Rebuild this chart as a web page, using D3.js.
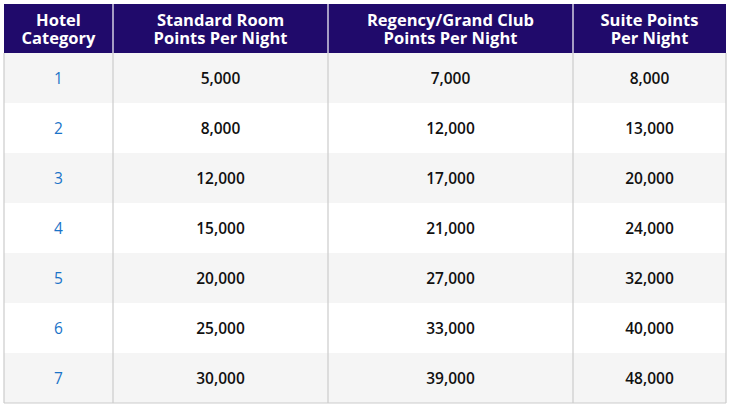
<!DOCTYPE html><html><head><meta charset="utf-8"><script src="https://cdn.jsdelivr.net/npm/d3@7"></script>
<style>body{margin:0;background:#fff}</style></head><body><svg id="c" width="735" height="409"></svg>
<script>
const headers=[["Hotel","Category"],["Standard Room","Points Per Night"],["Regency/Grand Club","Points Per Night"],["Suite Points","Per Night"]];
const categories=["1","2","3","4","5","6","7"];
const standard=[5000,8000,12000,15000,20000,25000,30000];
const club=[7000,12000,17000,21000,27000,33000,39000];
const suite=[8000,13000,20000,24000,32000,40000,48000];
const colEdges=[4,113,328,573,726];
const svg=d3.select("#c");
const fmt=d3.format(",");
const tY=4,hh=49,rh=50;
const y=d3.scaleBand().domain(categories).range([tY+hh,tY+hh+rh*categories.length]);
const font="'Open Sans',sans-serif";
svg.append("rect").attr("x",colEdges[0]).attr("y",tY).attr("width",colEdges[4]-colEdges[0]).attr("height",hh).attr("fill","#200a6b");
categories.forEach((c,i)=>{
  svg.append("rect").attr("x",colEdges[0]).attr("y",y(c)).attr("width",colEdges[4]-colEdges[0]).attr("height",rh).attr("fill",i%2==0?"#f5f5f5":"#ffffff");
});
const g=svg.append("g").attr("stroke","#cccccc").attr("stroke-width",1.2);
colEdges.forEach(x=>{g.append("line").attr("x1",x).attr("x2",x).attr("y1",tY+hh).attr("y2",y.range()[1]);});
g.append("line").attr("x1",colEdges[0]).attr("x2",colEdges[4]).attr("y1",y.range()[1]).attr("y2",y.range()[1]);
colEdges.slice(1,4).forEach(x=>svg.append("line").attr("x1",x).attr("x2",x).attr("y1",tY).attr("y2",tY+hh).attr("stroke","#ffffff").attr("stroke-width",1.2));
headers.forEach((h,j)=>{
  const cx=(colEdges[j]+colEdges[j+1])/2;
  h.forEach((t,k)=>svg.append("text").attr("x",cx).attr("y",tY+22+k*18).attr("text-anchor","middle").attr("fill","#fff").attr("font-family",font).attr("font-weight","700").attr("font-size",16.5).text(t));
});
const cols=[categories,standard.map(fmt),club.map(fmt),suite.map(fmt)];
cols.forEach((vals,j)=>{
  const cx=(colEdges[j]+colEdges[j+1])/2;
  vals.forEach((v,i)=>svg.append("text").attr("x",cx).attr("y",y(categories[i])+rh/2+5.5).attr("text-anchor","middle")
   .attr("fill",j==0?"#1a73c8":"#111").attr("font-family",font).attr("font-weight",j==0?"400":"600").attr("font-size",15.5).text(v));
});
</script></body></html>
